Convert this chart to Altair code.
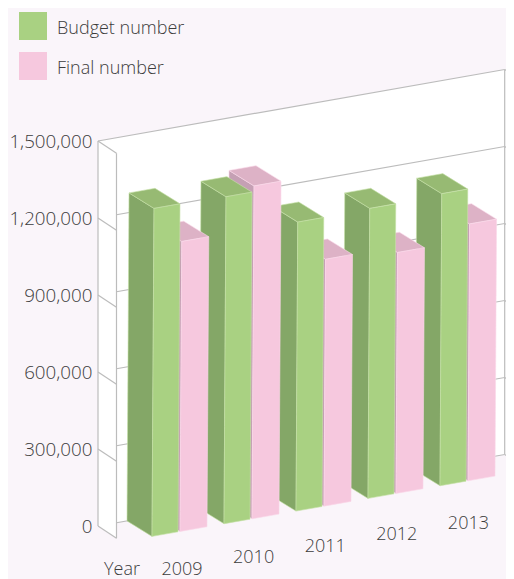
import altair as alt
import pandas as pd

years = ["2009", "2010", "2011", "2012", "2013"]
budget = [1278000, 1274000, 1126000, 1130000, 1138000]
final = [1130000, 1297000, 962000, 939000, 1001000]
ticks = [0, 300000, 600000, 900000, 1200000, 1500000]
series = ["Budget number", "Final number"]

BG = "#faf5fa"
FONT = "Open Sans"
TXT = "#3c3c3c"
GRID = "#bcbcbc"
PAL = {
    "g": dict(front="#a9d182", top="#97ba73", side="#84a767", edge="#c6e0a8"),
    "p": dict(front="#f6c8de", top="#ddb2c6", side="#c5a0b4", edge="#fad9e9"),
}

# oblique projection of the chart's 3D box
PX = 385 / 1500000
SLOPE = -0.1758
LEAN = 2 / 328
X0, Y0 = 98, 526
WALL_LEN = 406.7
WALL_D = (18.5, 12.3)
BAR_D = (25, 15.5)
ZERO = (0, 0)
VMAX = ticks[-1]


def pr(u, d, v):
    """u along the back wall (px), d = depth, v = value -> (x px, y in value units); bars lean slightly"""
    return X0 + u + d[0] + v * PX * LEAN, v - (u * SLOPE + d[1]) / PX


def wpr(u, d, v):
    """same projection for the box walls, which do not lean"""
    return X0 + u + d[0], v - (u * SLOPE + d[1]) / PX


def slices(poly):
    xs = sorted({p[0] for p in poly})
    out = []
    n = len(poly)
    for x in xs:
        hits = []
        for i in range(n):
            a, b = poly[i], poly[(i + 1) % n]
            if min(a[0], b[0]) <= x <= max(a[0], b[0]):
                if a[0] == b[0]:
                    hits += [a[1], b[1]]
                else:
                    hits.append(a[1] + (b[1] - a[1]) * (x - a[0]) / (b[0] - a[0]))
        out.append((x, min(hits), max(hits)))
    return out


def area_rows(poly, face, **extra):
    return [dict(face=face, x=x, y=lo, y2=hi, **extra) for x, lo, hi in slices(poly)]


# walls
back_wall = area_rows([wpr(0, ZERO, 0), wpr(WALL_LEN, ZERO, 0), wpr(WALL_LEN, ZERO, VMAX), wpr(0, ZERO, VMAX)], 1)
right_wall = area_rows([wpr(WALL_LEN, ZERO, 0), wpr(WALL_LEN, WALL_D, 0), wpr(WALL_LEN, WALL_D, VMAX), wpr(WALL_LEN, ZERO, VMAX)], 2)
left_wall_rows = area_rows([wpr(0, ZERO, 0), wpr(0, WALL_D, 0), wpr(0, WALL_D, VMAX), wpr(0, ZERO, VMAX)], 3)

back_lines, side_lines = [], []
for t in ticks:
    a, b = wpr(0, ZERO, t), wpr(WALL_LEN, ZERO, t)
    back_lines.append(dict(x=a[0], y=a[1], x2=b[0], y2=b[1]))
    a2 = wpr(0, WALL_D, t)
    side_lines.append(dict(x=a[0], y=a[1], x2=a2[0], y2=a2[1]))
    r2 = wpr(WALL_LEN, WALL_D, t)
    side_lines.append(dict(x=b[0], y=b[1], x2=r2[0], y2=r2[1]))
for u, d in [(0, ZERO), (0, WALL_D), (WALL_LEN, ZERO)]:
    a, b = wpr(u, d, 0), wpr(u, d, VMAX)
    side_lines.append(dict(x=a[0], y=a[1], x2=b[0], y2=b[1]))

# bars, painted from the far right to the near left
rows = []
fid = 0
STEP = 72
WG, WP = 26, 27
GAP = 2
for i in reversed(range(len(years))):
    ug = 29 + i * STEP
    up = ug + WG + GAP
    for u, w, v, key in [(up, WP, final[i], "p"), (ug, WG, budget[i], "g")]:
        c = PAL[key]
        faces = [
            ([pr(u, ZERO, 0), pr(u, BAR_D, 0), pr(u, BAR_D, v), pr(u, ZERO, v)], "side"),
            ([pr(u, ZERO, v), pr(u, BAR_D, v), pr(u + w, BAR_D, v), pr(u + w, ZERO, v)], "top"),
            ([pr(u, BAR_D, 0), pr(u + w, BAR_D, 0), pr(u + w, BAR_D, v), pr(u, BAR_D, v)], "front"),
        ]
        for poly, name in faces:
            fid += 1
            rows += area_rows(poly, fid, fill=c[name], edge=c["edge"])

# year labels run on their own shallower line below the floor
labels = [dict(x=182 + i * 71.6, y=(Y0 - (570 - i * 11.6)) / PX, t=yr) for i, yr in enumerate(years)]
labels.append(dict(x=122, y=(Y0 - 570) / PX, t="Year"))

# hand-placed legend rows (square and label)
legend_rows = [dict(x=33, y=(Y0 - 26) / PX, tx=57, ty=(Y0 - 29) / PX, s=series[0], c=PAL["g"]["front"]),
               dict(x=33, y=(Y0 - 66) / PX, tx=57, ty=(Y0 - 69) / PX, s=series[1], c=PAL["p"]["front"])]

xs = alt.Scale(domain=[8, 506], nice=False, zero=False)
ys = alt.Scale(domain=[(Y0 - 579) / PX, (Y0 - 8) / PX], nice=False, zero=False)
X = lambda f="x": alt.X(f"{f}:Q", scale=xs, axis=None)
Yv = lambda f="y": alt.Y(f"{f}:Q", scale=ys)

axis = alt.Chart(pd.DataFrame({"y": ticks})).mark_point(opacity=0).encode(
    y=alt.Y("y:Q", scale=ys, axis=alt.Axis(
        values=ticks, format=",.0f", orient="left", offset=-84, domain=False, ticks=False,
        grid=False, title=None, labelFont=FONT, labelFontSize=18.8, labelColor=TXT,
        labelPadding=0, labelFontWeight=300, labelOverlap=False,
    ))
)
walls = alt.Chart(pd.DataFrame(back_wall + right_wall)).mark_area(color="white", clip=True).encode(
    x=X(), y=Yv(), y2="y2:Q", detail="face:N"
)
back = alt.Chart(pd.DataFrame(back_lines)).mark_rule(color=GRID, strokeWidth=1.2, clip=True).encode(
    x=X(), y=Yv(), x2="x2:Q", y2="y2:Q"
)
left_wall = alt.Chart(pd.DataFrame(left_wall_rows)).mark_area(color="white", clip=True).encode(
    x=X(), y=Yv(), y2="y2:Q", detail="face:N"
)
sides = alt.Chart(pd.DataFrame(side_lines)).mark_rule(color=GRID, strokeWidth=1.2, clip=True).encode(
    x=X(), y=Yv(), x2="x2:Q", y2="y2:Q"
)
bars = alt.Chart(pd.DataFrame(rows)).mark_area(strokeWidth=0.6, clip=True).encode(
    x=X(), y=Yv(), y2="y2:Q",
    fill=alt.Fill("fill:N", scale=None),
    stroke=alt.Stroke("edge:N", scale=None),
    detail="face:Q",
)
legend_df = pd.DataFrame(legend_rows)
legend_sq = alt.Chart(legend_df).mark_square(size=784, opacity=1, strokeWidth=0).encode(
    x=X(), y=Yv(), fill=alt.Fill("c:N", scale=None)
)
legend_tx = alt.Chart(legend_df).mark_text(
    font=FONT, fontSize=18, fontWeight=300, color=TXT, align="left", baseline="middle"
).encode(x=X("tx"), y=Yv("ty"), text="s:N")
year_text = alt.Chart(pd.DataFrame(labels)).mark_text(
    font=FONT, fontSize=18, fontWeight=300, color=TXT, align="center", baseline="middle"
).encode(x=X(), y=Yv(), text="t:N")

chart = alt.layer(axis, walls, back, left_wall, sides, bars, legend_sq, legend_tx, year_text).properties(
    width=498, height=571, autosize=alt.AutoSizeParams(type="none"), padding=0, background=BG,
).configure_view(stroke=None)

chart.save("out.html", embed_options={"renderer": "svg", "actions": False})
